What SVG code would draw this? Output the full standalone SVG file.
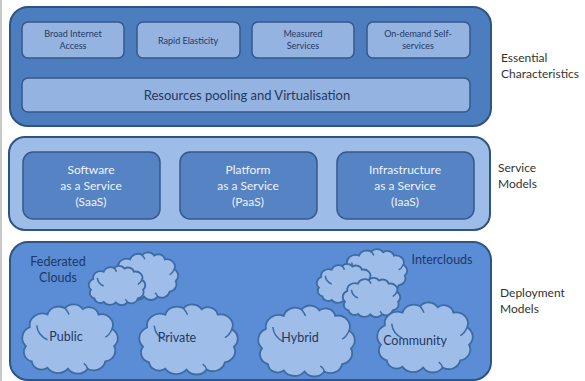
<svg xmlns="http://www.w3.org/2000/svg" xmlns:xlink="http://www.w3.org/1999/xlink" width="585" height="381" viewBox="0 0 585 381">
<style>
text{font-family:Lato,"Open Sans","Liberation Sans",sans-serif;text-anchor:middle}
.panel{stroke:#2f5382;stroke-width:2}
.p1{fill:#4c7dbf}
.p2{fill:#9dbce8}
.p3{fill:#5a8dd6}
.ibox{fill:#95b3e1;stroke:#34598a;stroke-width:1.5}
.sbox{fill:#5683c4;stroke:#34598a;stroke-width:1.5}
.t1{font-size:9px;fill:#1f3a63}
.t2{font-size:13px;fill:#1f3a63}
.ts{font-size:12px;fill:#eef3fb}
.lab{font-size:12px;fill:#333;text-anchor:start}
.ct{font-size:12.5px;fill:#1f3864}
.cloud{fill:#9fbde9;stroke:#3d6ba3;stroke-width:1.8;vector-effect:non-scaling-stroke}
.hook{fill:none;stroke:#3d6ba3;stroke-width:1.5;vector-effect:non-scaling-stroke}
</style>
<defs>
<symbol id="cloud" viewBox="0 0 100 82" preserveAspectRatio="none" overflow="visible">
<path class="cloud" d="M5,50 A13,13 0 0 1 9,29 A13,13 0 0 1 27,15 A12,12 0 0 1 45,8 A11,11 0 0 1 63,9 A10,10 0 0 1 79,15 A12,12 0 0 1 93,31 A12,12 0 0 1 95,50 A12,12 0 0 1 86,67 A12,12 0 0 1 68,75 A12,12 0 0 1 48,75 A13,13 0 0 1 27,74 A10,10 0 0 1 11,67 A11,11 0 0 1 5,50 Z"/>
<path class="hook" d="M16,27 Q17,38 27,43"/>
<path class="hook" d="M93,31 Q90,38 86,40"/>
<path class="hook" d="M68,75 Q67,71 64,69"/>
<path class="hook" d="M45,8 Q48,12 49,15"/>
</symbol>
</defs>
<rect x="0" y="0" width="2" height="381" fill="#c8c8c8"/>
<g id="essential">
<rect class="panel p1" x="10" y="7" width="481" height="119" rx="18"/>
<g id="broad"><rect class="ibox" x="22" y="22" width="102" height="36" rx="6"/><text class="t1" x="73" y="37">Broad Internet</text><text class="t1" x="73" y="49">Access</text></g>
<g id="rapid"><rect class="ibox" x="137" y="22" width="103" height="36" rx="6"/><text class="t1" x="188" y="44">Rapid Elasticity</text></g>
<g id="measured"><rect class="ibox" x="252" y="22" width="102" height="36" rx="6"/><text class="t1" x="303" y="37">Measured</text><text class="t1" x="303" y="49">Services</text></g>
<g id="ondemand"><rect class="ibox" x="367" y="22" width="103" height="36" rx="6"/><text class="t1" x="418" y="37">On-demand Self-</text><text class="t1" x="418" y="49">services</text></g>
<g id="pooling"><rect class="ibox" x="22" y="78" width="448" height="34" rx="6"/><text class="t2" x="247" y="100">Resources pooling and Virtualisation</text></g>
</g>
<g id="essential-label"><text class="lab" x="501" y="62">Essential</text><text class="lab" x="501" y="78">Characteristics</text></g>
<g id="service">
<rect class="panel p2" x="9" y="137" width="481" height="93" rx="16"/>
<g id="saas"><rect class="sbox" x="23" y="152" width="137" height="67" rx="10"/><text class="ts" x="91" y="174">Software</text><text class="ts" x="91" y="190">as a Service</text><text class="ts" x="91" y="206">(SaaS)</text></g>
<g id="paas"><rect class="sbox" x="180" y="152" width="137" height="67" rx="10"/><text class="ts" x="248" y="174">Platform</text><text class="ts" x="248" y="190">as a Service</text><text class="ts" x="248" y="206">(PaaS)</text></g>
<g id="iaas"><rect class="sbox" x="337" y="152" width="137" height="67" rx="10"/><text class="ts" x="405" y="174">Infrastructure</text><text class="ts" x="405" y="190">as a Service</text><text class="ts" x="405" y="206">(IaaS)</text></g>
</g>
<g id="service-label"><text class="lab" x="498" y="172">Service</text><text class="lab" x="498" y="188">Models</text></g>
<g id="deployment">
<rect class="panel p3" x="10" y="242" width="481" height="138" rx="18"/>
<g id="federated">
<use xlink:href="#cloud" x="112" y="250" width="67" height="51"/>
<use xlink:href="#cloud" x="88" y="264" width="58" height="42"/>
<text class="ct" x="58" y="266">Federated</text><text class="ct" x="58" y="282">Clouds</text>
</g>
<g id="interclouds">
<use xlink:href="#cloud" x="341" y="247" width="67" height="47"/>
<use xlink:href="#cloud" x="316" y="262" width="58" height="42"/>
<use xlink:href="#cloud" x="342" y="276" width="59" height="42"/>
<text class="ct" x="442" y="264">Interclouds</text>
</g>
<g id="public"><use xlink:href="#cloud" x="21" y="301" width="98" height="74"/><text class="ct" x="66" y="341">Public</text></g>
<g id="private"><use xlink:href="#cloud" x="138" y="301" width="101" height="75"/><text class="ct" x="177" y="342">Private</text></g>
<g id="hybrid"><use xlink:href="#cloud" x="257" y="302" width="99" height="76"/><text class="ct" x="300" y="342">Hybrid</text></g>
<g id="community"><use xlink:href="#cloud" x="376" y="299" width="98" height="75"/><text class="ct" x="415" y="345">Community</text></g>
</g>
<g id="deployment-label"><text class="lab" x="500" y="297">Deployment</text><text class="lab" x="500" y="313">Models</text></g>
<g id="connectors"></g>
</svg>
